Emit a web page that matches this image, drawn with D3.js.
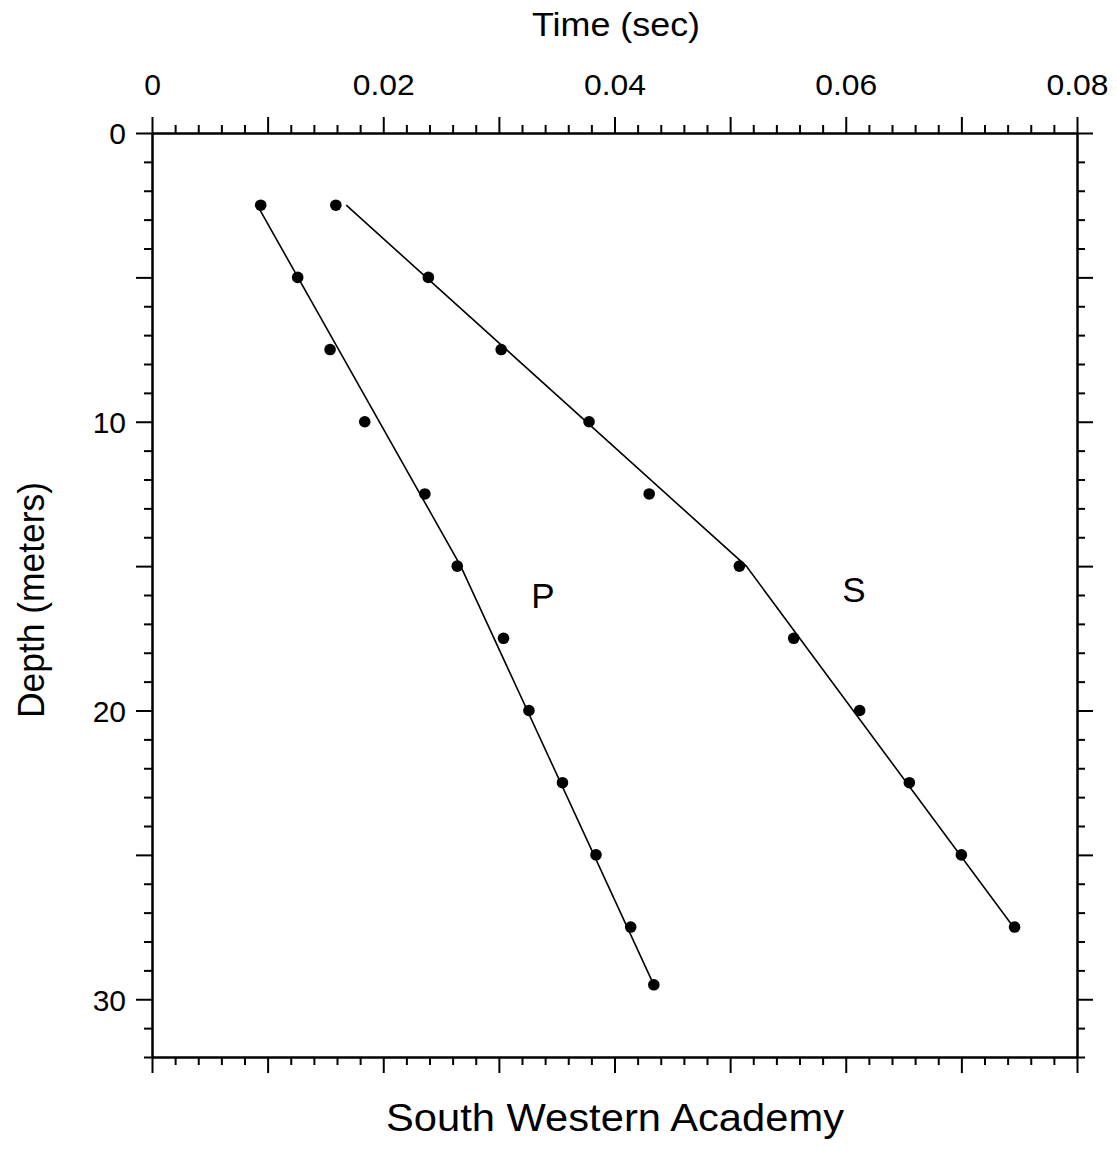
<!DOCTYPE html>
<html>
<head>
<meta charset="utf-8">
<script src="https://cdn.jsdelivr.net/npm/d3@7"></script>
<style>
  html, body { margin: 0; padding: 0; background: #fff; }
  svg { display: block; }
  text { font-family: "Liberation Sans", Arial, Helvetica, sans-serif; fill: #000; }
</style>
</head>
<body>
<svg id="chart" width="1117" height="1151"></svg>
<script>
// ---- data ----
const depthP = [2.5, 5, 7.5, 10, 12.5, 15, 17.5, 20, 22.5, 25, 27.5, 29.5];
const timeP  = [0.0094, 0.0126, 0.0154, 0.0184, 0.0236, 0.0264, 0.0304, 0.0326, 0.0355, 0.0384, 0.0414, 0.0434];
const depthS = [2.5, 5, 7.5, 10, 12.5, 15, 17.5, 20, 22.5, 25, 27.5];
const timeS  = [0.0159, 0.0239, 0.0302, 0.0378, 0.0430, 0.0508, 0.0555, 0.0612, 0.0655, 0.0700, 0.0746];
// fitted segment lines
const fitPTime  = [0.0091, 0.0267, 0.0434];
const fitPDepth = [2.5, 15, 29.5];
const fitSTime  = [0.0168, 0.0514, 0.0745];
const fitSDepth = [2.5, 15, 27.5];
// ticks
const xMajorTicks = [0, 0.01, 0.02, 0.03, 0.04, 0.05, 0.06, 0.07, 0.08];
const xLabelTicks = [0, 0.02, 0.04, 0.06, 0.08];
const yMajorTicks = [0, 5, 10, 15, 20, 25, 30];
const yLabelTicks = [0, 10, 20, 30];
const xTitle = "Time (sec)";
const yTitle = "Depth (meters)";
const bottomTitle = "South Western Academy";
const seriesLabels = [{name: "P", t: 0.0338, d: 16.44}, {name: "S", t: 0.0607, d: 16.23}];

// ---- layout ----
const svg = d3.select("#chart");
const mLeft = 152, mTop = 133, mRight = 1077, mBottom = 1057;
const x = d3.scaleLinear().domain([0, 0.08]).range([mLeft, mRight]);
const y = d3.scaleLinear().domain([0, 32]).range([mTop, mBottom]);

const xMinor = d3.range(0, 81, 2).map(v => v / 1000).filter(v => !xMajorTicks.some(m => Math.abs(m - v) < 1e-9));
const yMinor = d3.range(0, 33, 1).filter(v => !yMajorTicks.includes(v));

const fmtX = d => xLabelTicks.some(m => Math.abs(m - d) < 1e-9) ? (d === 0 ? "0" : d.toFixed(2)) : "";
const fmtY = d => yLabelTicks.includes(d) ? String(d) : "";

function styleAxis(g) {
  g.selectAll("path.domain").attr("stroke", "#000").attr("stroke-width", 2);
  g.selectAll(".tick line").attr("stroke", "#000").attr("stroke-width", 2);
  g.selectAll(".tick text").attr("font-family", "Liberation Sans, Arial, sans-serif").attr("fill", "#000");
}

// top
const gTop = svg.append("g").attr("transform", `translate(0,${mTop})`);
gTop.append("g").call(d3.axisTop(x).tickValues(xMinor).tickSize(8).tickSizeOuter(0).tickFormat("")).call(styleAxis);
gTop.append("g").call(d3.axisTop(x).tickValues(xMajorTicks).tickSize(16).tickSizeOuter(0).tickPadding(22).tickFormat(fmtX)).call(styleAxis)
  .selectAll(".tick text").attr("font-size", 30).attr("dy", 0)
  .each(function(d){ const t = d3.select(this); if (t.text().length > 1) t.attr("textLength", 62).attr("lengthAdjust", "spacingAndGlyphs"); });
// bottom
const gBot = svg.append("g").attr("transform", `translate(0,${mBottom})`);
gBot.append("g").call(d3.axisBottom(x).tickValues(xMinor).tickSize(8).tickSizeOuter(0).tickFormat("")).call(styleAxis);
gBot.append("g").call(d3.axisBottom(x).tickValues(xMajorTicks).tickSize(16).tickSizeOuter(0).tickFormat("")).call(styleAxis);
// left
const gLeft = svg.append("g").attr("transform", `translate(${mLeft},0)`);
gLeft.append("g").call(d3.axisLeft(y).tickValues(yMinor).tickSize(8).tickSizeOuter(0).tickFormat("")).call(styleAxis);
gLeft.append("g").call(d3.axisLeft(y).tickValues(yMajorTicks).tickSize(16).tickSizeOuter(0).tickPadding(10).tickFormat(fmtY)).call(styleAxis)
  .selectAll(".tick text").attr("font-size", 30).attr("dy", "0.36em");
// right
const gRight = svg.append("g").attr("transform", `translate(${mRight},0)`);
gRight.append("g").call(d3.axisRight(y).tickValues(yMinor).tickSize(8).tickSizeOuter(0).tickFormat("")).call(styleAxis);
gRight.append("g").call(d3.axisRight(y).tickValues(yMajorTicks).tickSize(16).tickSizeOuter(0).tickFormat("")).call(styleAxis);

// lines
const line = d3.line().x(d => x(d[0])).y(d => y(d[1]));
svg.append("path").datum(d3.zip(fitPTime, fitPDepth)).attr("d", line)
  .attr("fill", "none").attr("stroke", "#000").attr("stroke-width", 1.6);
svg.append("path").datum(d3.zip(fitSTime, fitSDepth)).attr("d", line)
  .attr("fill", "none").attr("stroke", "#000").attr("stroke-width", 1.6);

// points
svg.append("g").selectAll("circle").data(d3.zip(timeP, depthP)).join("circle")
  .attr("cx", d => x(d[0])).attr("cy", d => y(d[1])).attr("r", 5.8).attr("fill", "#000");
svg.append("g").selectAll("circle").data(d3.zip(timeS, depthS)).join("circle")
  .attr("cx", d => x(d[0])).attr("cy", d => y(d[1])).attr("r", 5.8).attr("fill", "#000");

// series labels
svg.append("g").selectAll("text").data(seriesLabels).join("text")
  .attr("x", d => x(d.t)).attr("y", d => y(d.d)).attr("text-anchor", "middle")
  .attr("font-size", 35).text(d => d.name);

// titles
svg.append("text").attr("x", 616).attr("y", 36).attr("text-anchor", "middle")
  .attr("font-size", 33).attr("textLength", 168).attr("lengthAdjust", "spacingAndGlyphs").text(xTitle);
svg.append("text").attr("x", 615).attr("y", 1131).attr("text-anchor", "middle")
  .attr("font-size", 38).attr("textLength", 458).attr("lengthAdjust", "spacingAndGlyphs").text(bottomTitle);
svg.append("text").attr("transform", "translate(44,600) rotate(-90)").attr("text-anchor", "middle")
  .attr("font-size", 36).attr("textLength", 236).attr("lengthAdjust", "spacingAndGlyphs").text(yTitle);
</script>
</body>
</html>
